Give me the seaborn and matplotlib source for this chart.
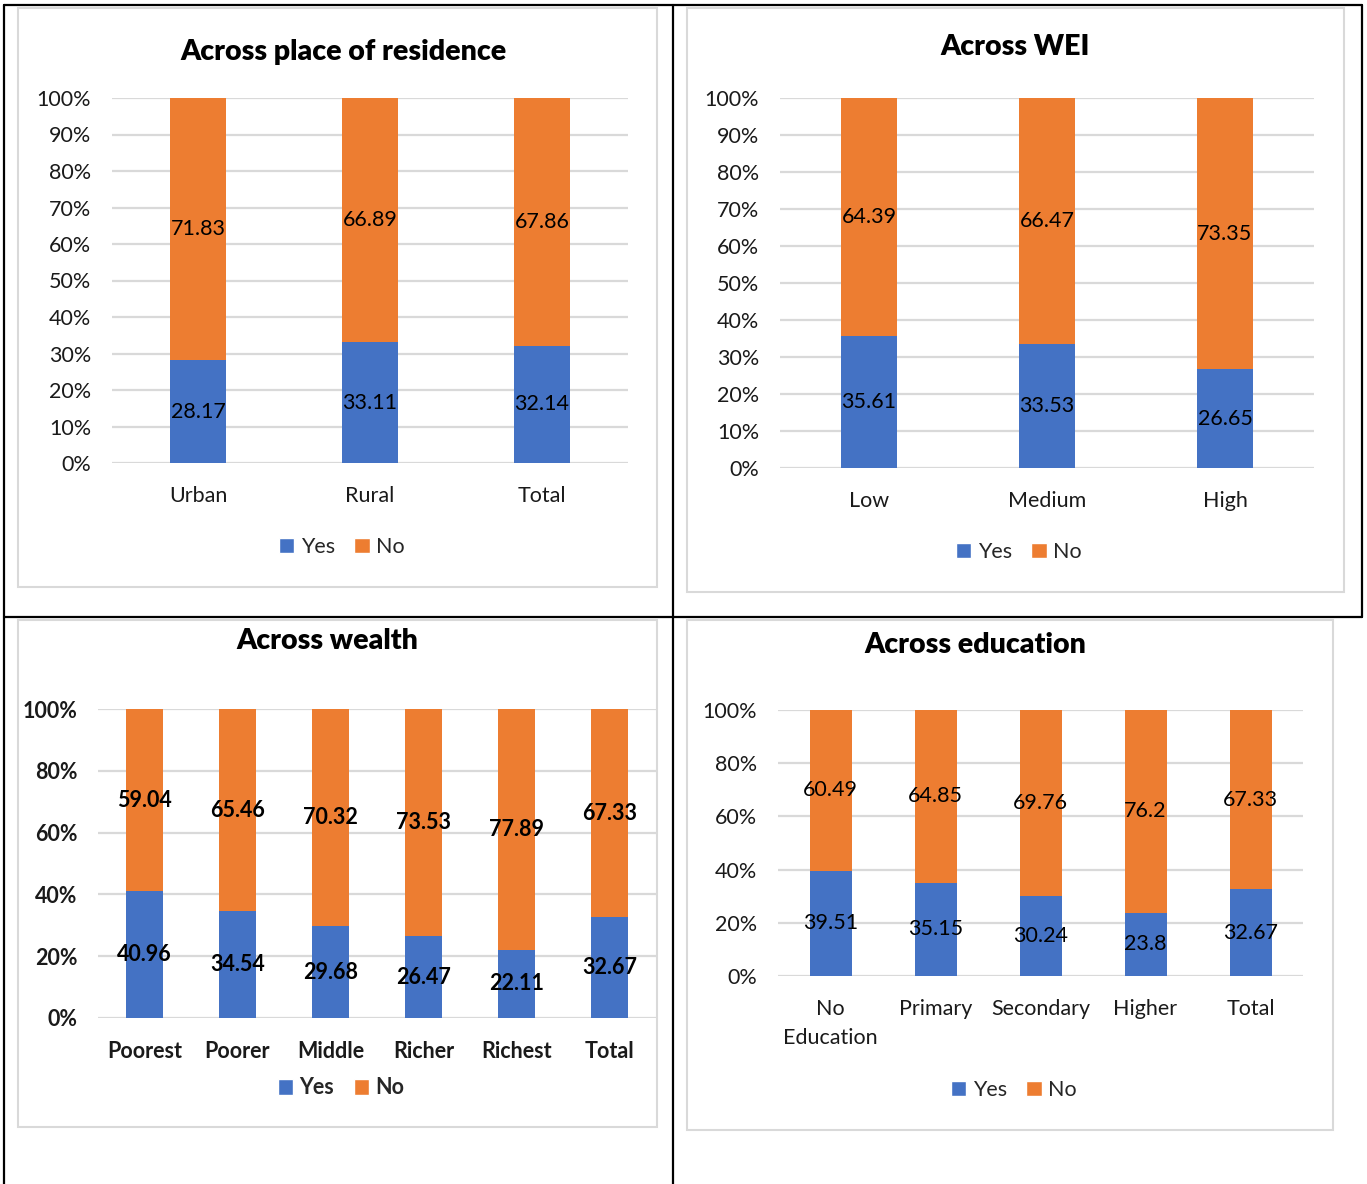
import matplotlib
matplotlib.use('Agg')
import matplotlib.pyplot as plt
import seaborn as sns
import pandas as pd
from matplotlib.patches import Patch, Rectangle
from matplotlib.lines import Line2D

sns.set_theme(style='white')
plt.rcParams['font.family'] = ['Lato', 'DejaVu Sans']

# ---- data ----
residence_cats = ['Urban', 'Rural', 'Total']
residence_yes = [28.17, 33.11, 32.14]
residence_no = [71.83, 66.89, 67.86]

wei_cats = ['Low', 'Medium', 'High']
wei_yes = [35.61, 33.53, 26.65]
wei_no = [64.39, 66.47, 73.35]

wealth_cats = ['Poorest', 'Poorer', 'Middle', 'Richer', 'Richest', 'Total']
wealth_yes = [40.96, 34.54, 29.68, 26.47, 22.11, 32.67]
wealth_no = [59.04, 65.46, 70.32, 73.53, 77.89, 67.33]

edu_cats = ['No\nEducation', 'Primary', 'Secondary', 'Higher', 'Total']
edu_yes = [39.51, 35.15, 30.24, 23.8, 32.67]
edu_no = [60.49, 64.85, 69.76, 76.2, 67.33]

ticks10 = [0, 10, 20, 30, 40, 50, 60, 70, 80, 90, 100]
ticks20 = [0, 20, 40, 60, 80, 100]

BLUE = '#4472C4'
ORANGE = '#ED7D31'
GRID = '#d9d9d9'
W, H = 1367, 1184
FS = 15.5

fig = plt.figure(figsize=(W / 100, H / 100), dpi=100)
fig.patch.set_facecolor('white')


def fx(x):
    return x / W


def fy(y):
    return 1 - y / H


# black table frame
for (x0, y0, x1, y1) in [(4, 5, 1362, 5), (4, 5, 4, 1184), (673, 5, 673, 1184),
                         (4, 617, 1362, 617), (1362, 5, 1362, 617)]:
    fig.add_artist(Line2D([fx(x0), fx(x1)], [fy(y0), fy(y1)], color='black', lw=1.6))

# gray chart borders
for (x0, y0, x1, y1) in [(18, 8, 657, 587), (687, 8, 1344, 592),
                         (18, 620, 657, 1127), (687, 620, 1333, 1130)]:
    fig.add_artist(Rectangle((fx(x0), fy(y1)), fx(x1) - fx(x0), fy(y0) - fy(y1),
                             fill=False, edgecolor=GRID, lw=1.5))


def panel(rect, cats, yes, no, ticks, title, title_xy, legend_xy, width, bold=False):
    l, t, r, b = rect
    ax = fig.add_axes([fx(l), fy(b), fx(r) - fx(l), fy(t) - fy(b)])
    df = pd.DataFrame({'cat': cats, 'yes': yes, 'no': no})
    df['total'] = df['yes'] + df['no']
    sns.barplot(data=df, x='cat', y='total', color=ORANGE, saturation=1, width=width,
                errorbar=None, linewidth=0, ax=ax)
    sns.barplot(data=df, x='cat', y='yes', color=BLUE, saturation=1, width=width,
                errorbar=None, linewidth=0, ax=ax)
    fw = 'bold' if bold else 'normal'
    ax.set_ylim(0, 100)
    ax.set_xlim(-0.5, len(cats) - 0.5)
    ax.set_yticks(ticks)
    ax.set_yticklabels([f'{v}%' for v in ticks], fontsize=FS, fontweight=fw, color='#1a1a1a')
    ax.set_xticks(range(len(cats)))
    ax.set_xticklabels(cats, fontsize=FS, fontweight=fw, color='#1a1a1a', linespacing=1.55)
    ax.tick_params(axis='both', length=0)
    ax.tick_params(axis='y', pad=15)
    ax.tick_params(axis='x', pad=16.5)
    ax.set_xlabel('')
    ax.set_ylabel('')
    for s in ax.spines.values():
        s.set_visible(False)
    ax.yaxis.grid(True, color=GRID, lw=1.6)
    ax.set_axisbelow(True)
    ax.set_facecolor('none')
    for i, (y_, n_) in enumerate(zip(yes, no)):
        ax.text(i, y_ / 2, f'{y_:g}', ha='center', va='center', fontsize=FS,
                fontweight=fw, color='black')
        ax.text(i, y_ + n_ / 2, f'{n_:g}', ha='center', va='center', fontsize=FS,
                fontweight=fw, color='black')
    fig.text(fx(title_xy[0]), fy(title_xy[1]), title, ha='center', va='center',
             fontsize=20.5, fontweight='heavy', color='black')
    handles = [Patch(facecolor=BLUE, label='Yes'), Patch(facecolor=ORANGE, label='No')]
    fig.legend(handles=handles, loc='center', bbox_to_anchor=(fx(legend_xy[0]), fy(legend_xy[1])),
               ncol=2, frameon=False, handlelength=0.7, handleheight=0.7,
               handletextpad=0.3, columnspacing=0.9,
               prop={'size': FS, 'weight': fw})
    return ax


panel((112, 98, 628, 463), residence_cats, residence_yes, residence_no, ticks10,
      'Across place of residence', (343, 52), (342, 547), 0.32)
panel((780, 98, 1314, 468), wei_cats, wei_yes, wei_no, ticks10,
      'Across WEI', (1015, 47), (1019, 552), 0.31)
panel((98, 709, 656, 1018), wealth_cats, wealth_yes, wealth_no, ticks20,
      'Across wealth', (327, 641), (341, 1088), 0.40, bold=True)
panel((778, 710, 1303, 976), edu_cats, edu_yes, edu_no, ticks20,
      'Across education', (975, 645), (1014, 1090), 0.40)

fig.savefig('out.png', dpi=100, facecolor='white')
